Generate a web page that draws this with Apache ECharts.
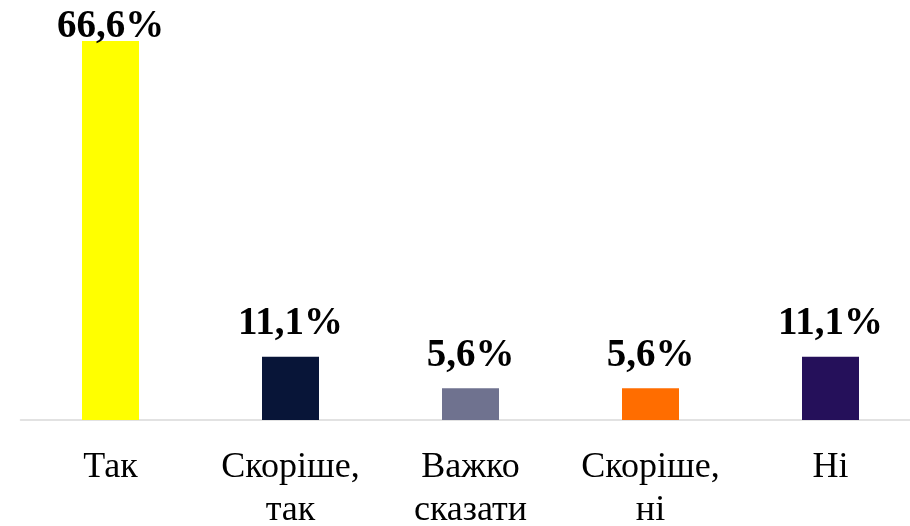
<!DOCTYPE html>
<html><head><meta charset="utf-8">
<script src="https://cdn.jsdelivr.net/npm/echarts@6/dist/echarts.min.js"></script>
<style>html,body{margin:0;padding:0;background:#fff}#c{width:910px;height:526px}</style>
</head><body><div id="c"></div>
<script>
const categories = ['Так', 'Скоріше,\nтак', 'Важко\nсказати', 'Скоріше,\nні', 'Ні'];
const values = [66.6, 11.1, 5.6, 5.6, 11.1];
const labels = ['66,6%', '11,1%', '5,6%', '5,6%', '11,1%'];
const colors = ['#ffff00', '#081538', '#6f728f', '#ff6d00', '#25105a'];

const chart = echarts.init(document.getElementById('c'));
chart.setOption({
  animation: false,
  grid: { left: 20.5, width: 900, top: 21.7, bottom: 106, containLabel: false, outerBoundsMode: 'none' },
  xAxis: {
    type: 'category', data: categories,
    axisLine: { lineStyle: { color: '#d9d9d9', width: 1.5 } },
    axisTick: { show: false },
    axisLabel: { interval: 0, color: '#000', fontFamily: 'Liberation Serif', fontSize: 36, lineHeight: 43, margin: 26 }
  },
  yAxis: { type: 'value', min: 0, max: 70, show: false, splitLine: { show: false } },
  series: [{
    type: 'bar', barWidth: 57,
    data: values.map((v, i) => ({
      value: v, itemStyle: { color: colors[i] },
      label: i === 0 ? { offset: [0, 18] } : {}
    })),
    label: {
      show: true, position: 'top', distance: 13,
      formatter: p => labels[p.dataIndex],
      color: '#000', fontFamily: 'Liberation Serif', fontWeight: 'bold', fontSize: 39
    }
  }]
});
</script></body></html>
